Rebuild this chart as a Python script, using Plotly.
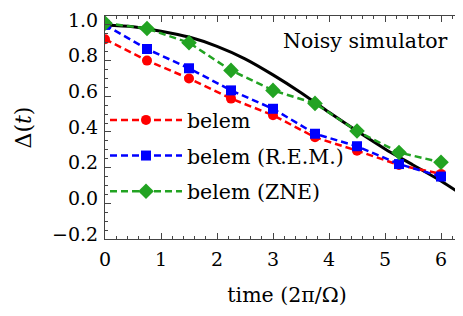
import plotly.graph_objects as go

t = [0, 0.75, 1.5, 2.25, 3.0, 3.75, 4.5, 5.25, 6.0]
belem = [0.92, 0.80, 0.70, 0.587, 0.494, 0.37, 0.295, 0.215, 0.165]
belem_rem = [1.00, 0.865, 0.757, 0.633, 0.53, 0.39, 0.32, 0.22, 0.15]
belem_zne = [1.01, 0.98, 0.90, 0.745, 0.633, 0.56, 0.405, 0.285, 0.23]

t_exact = [0, 0.5, 1.0, 1.5, 2.0, 2.5, 3.0, 3.5, 4.0, 4.5, 5.0, 5.5, 6.0, 6.5]
d_exact = [1.0, 0.99, 0.965, 0.932, 0.88, 0.81, 0.72, 0.62, 0.51, 0.405, 0.305, 0.215, 0.125, 0.022]

x_ticks = [0, 1, 2, 3, 4, 5, 6]
y_ticks = [-0.2, 0.0, 0.2, 0.4, 0.6, 0.8, 1.0]

FONT = "DejaVu Serif"
TICK_FS = 19
TXT_FS = 20.5
fig = go.Figure()

fig.add_trace(go.Scatter(x=t_exact, y=d_exact, mode="lines",
                         line=dict(color="black", width=3, shape="spline", smoothing=0.8),
                         showlegend=False))

series = [
    ("belem", belem, "#ff0000", "circle", 10),
    ("belem (R.E.M.)", belem_rem, "#0000ff", "square", 10),
    ("belem (ZNE)", belem_zne, "#22a322", "diamond", 12),
]
for name, ys, col, sym, sz in series:
    fig.add_trace(go.Scatter(x=t, y=ys, name=name, legendgroup=name, mode="lines+markers",
                             line=dict(color=col, width=2.5, dash="7px,4px"),
                             marker=dict(color=col, symbol=sym, size=sz, line=dict(width=0))))

axis_common = dict(showline=True, linecolor="#444", linewidth=1, mirror="allticks",
                   ticks="inside", ticklen=6, tickcolor="#444", showgrid=False, zeroline=False,
                   tickfont=dict(family=FONT, size=TICK_FS, color="black"))

fig.update_xaxes(range=[0, 6.5], tickvals=x_ticks, ticktext=[str(v) for v in x_ticks],
                 minor=dict(ticks="inside", ticklen=3, dtick=0.2, tickcolor="#444"),
                 title=dict(text="time (2π/Ω)", font=dict(family=FONT, size=TXT_FS, color="black"), standoff=18),
                 ticklabelstandoff=3, **axis_common)
fig.update_yaxes(range=[-0.2, 1.05], tickvals=y_ticks, ticktext=[f"{v:.1f}".replace("-", "\u2212") for v in y_ticks],
                 minor=dict(ticks="inside", ticklen=3, dtick=0.05, tick0=0, tickcolor="#444"),
                 title=dict(text="Δ(<i>t</i>)", font=dict(family=FONT, size=22, color="black"), standoff=14),
                 ticklabelstandoff=2, ticklabelshift=-5, ticklabeloverflow="allow", **axis_common)

fig.add_annotation(x=0.948, y=0.889, xref="paper", yref="paper", xanchor="right", yanchor="middle",
                   text="Noisy simulator", showarrow=False, font=dict(family=FONT, size=TXT_FS, color="black"))

fig.update_layout(width=463, height=316, margin=dict(l=97, r=1, t=6, b=85),
                  plot_bgcolor="white", paper_bgcolor="white",
                  legend=dict(x=0.0, y=0.623, xanchor="left", yanchor="top", bgcolor="rgba(0,0,0,0)",
                              itemwidth=72, tracegroupgap=6,
                              font=dict(family=FONT, size=TXT_FS, color="black")))

fig.write_html("out.html")
